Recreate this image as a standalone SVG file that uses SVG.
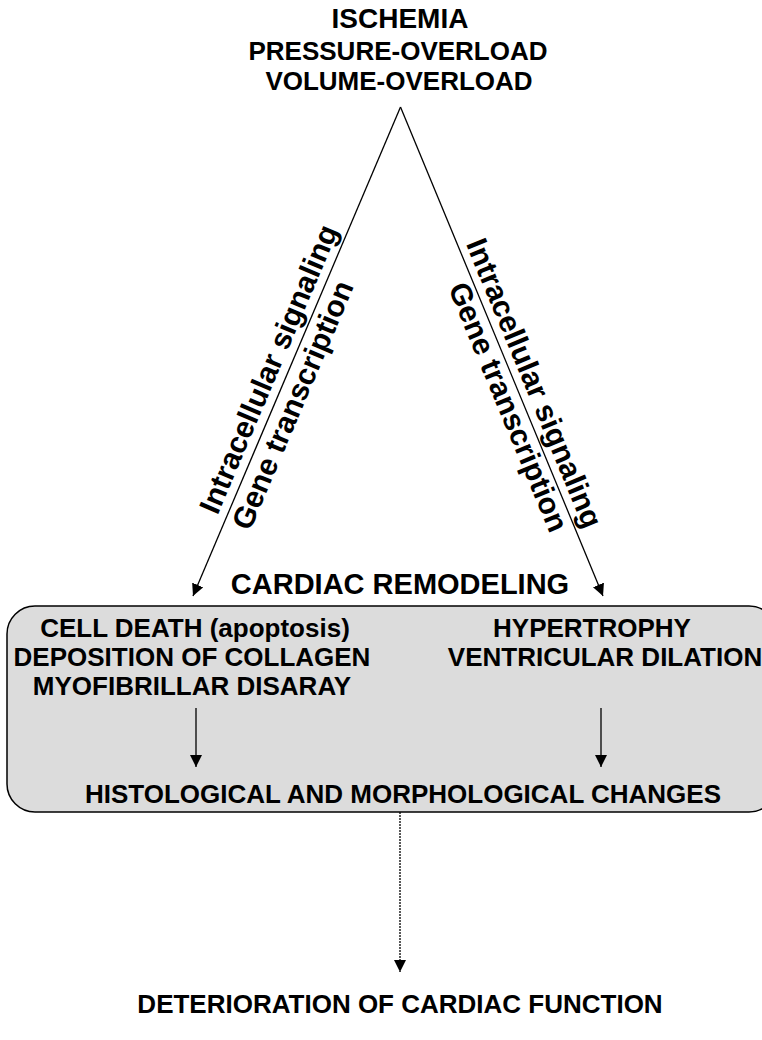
<svg xmlns="http://www.w3.org/2000/svg" width="762" height="1040" viewBox="0 0 762 1040">
<style>
text{font-family:"Liberation Sans",Arial,sans-serif;font-weight:bold;fill:#000;text-anchor:middle}
.t26{font-size:26px}
.t28{font-size:28px}
.t29{font-size:29px}
.rot{font-size:30px}
.ln{stroke:#000;stroke-width:1.3;fill:none}
</style>
<defs>
<marker id="ah" viewBox="0 0 10 10" refX="10" refY="5" markerWidth="12" markerHeight="12" markerUnits="userSpaceOnUse" orient="auto">
<path d="M0,0 L10,5 L0,10 Z" fill="#000"/>
</marker>
</defs>
<rect width="762" height="1040" fill="#fff"/>
<g id="causes">
<text class="t28" x="400" y="28">ISCHEMIA</text>
<text class="t26" x="398" y="60">PRESSURE-OVERLOAD</text>
<text class="t26" x="399" y="90">VOLUME-OVERLOAD</text>
</g>
<g id="remodeling-title">
<text class="t29" x="400" y="594">CARDIAC REMODELING</text>
</g>
<g id="remodeling-box">
<rect x="7" y="606" width="770" height="206" rx="28" ry="28" fill="#dcdcdc" stroke="#000" stroke-width="1.5"/>
<text class="t26" x="195" y="637">CELL DEATH (apoptosis)</text>
<text class="t26" x="192" y="666">DEPOSITION OF COLLAGEN</text>
<text class="t26" x="192" y="695">MYOFIBRILLAR DISARAY</text>
<text class="t26" x="592" y="637">HYPERTROPHY</text>
<text class="t26" x="605" y="666">VENTRICULAR DILATION</text>
<text class="t26" x="403" y="803">HISTOLOGICAL AND MORPHOLOGICAL CHANGES</text>
</g>
<g id="outcome">
<text class="t26" x="400" y="1013">DETERIORATION OF CARDIAC FUNCTION</text>
</g>
<g id="labels">
<text class="rot" transform="translate(278,373) rotate(-67)" x="0" y="0">Intracellular signaling</text>
<text class="rot" transform="translate(302,409) rotate(-67)" x="0" y="0">Gene transcription</text>
<text class="rot" transform="translate(525,387) rotate(67.5)" x="0" y="0">Intracellular signaling</text>
<text class="rot" transform="translate(499,411) rotate(67.5)" x="0" y="0">Gene transcription</text>
</g>
<g id="connectors">
<line class="ln" x1="400.5" y1="107" x2="193" y2="596" marker-end="url(#ah)"/>
<line class="ln" x1="400.5" y1="107" x2="603" y2="596" marker-end="url(#ah)"/>
<line class="ln" x1="196" y1="708" x2="196" y2="767" marker-end="url(#ah)"/>
<line class="ln" x1="601" y1="708" x2="601" y2="767" marker-end="url(#ah)"/>
<line class="ln" x1="400" y1="812" x2="400" y2="972" stroke-width="2.2" stroke-dasharray="2 1" marker-end="url(#ah)"/>
</g>
</svg>
